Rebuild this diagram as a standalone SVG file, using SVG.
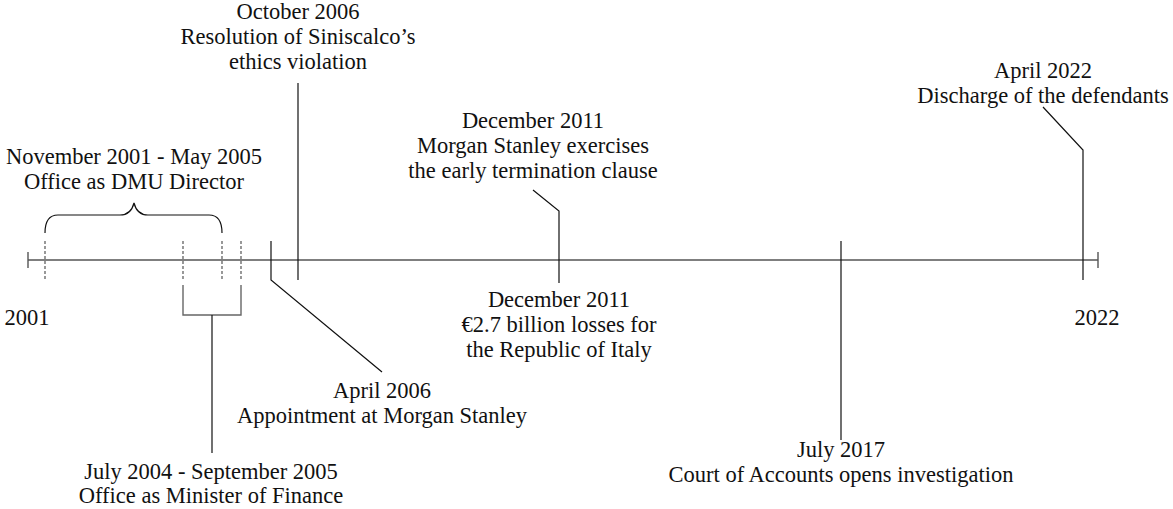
<svg xmlns="http://www.w3.org/2000/svg" width="1173" height="509" viewBox="0 0 1173 509">
  <style>
    text { font-family: "Liberation Serif", "DejaVu Serif", serif; font-size: 22.5px; fill: #111; text-anchor: middle; }
    .axis { stroke: #555; stroke-width: 1.4; fill: none; }
    .dash { stroke: #555; stroke-width: 1.2; stroke-dasharray: 3 2; fill: none; }
    .lead { stroke: #111; stroke-width: 1.2; fill: none; }
    .grey { stroke: #666; stroke-width: 1.4; fill: none; }
  </style>
  <rect width="1173" height="509" fill="#fff"/>

  <!-- timeline axis with end caps -->
  <g id="axis">
    <line class="axis" x1="28" y1="260" x2="1098" y2="260"/>
    <line class="axis" x1="28" y1="252" x2="28" y2="268"/>
    <line class="axis" x1="1098" y1="252" x2="1098" y2="268"/>
    <text x="27" y="325">2001</text>
    <text x="1097" y="325">2022</text>
  </g>

  <!-- connectors: leader lines, period markers, brace and bracket -->
  <g id="connectors">
    <line class="dash" x1="45" y1="241" x2="45" y2="280"/>
    <line class="dash" x1="183" y1="241" x2="183" y2="280"/>
    <line class="dash" x1="222" y1="241" x2="222" y2="280"/>
    <line class="dash" x1="241" y1="241" x2="241" y2="280"/>
    <path class="lead" d="M45,233 C45,222 49,215 58,215 H120 C128,215 132,211 134,203 C136,211 140,215 148,215 H209 C218,215 222,222 222,233"/>
    <path class="grey" d="M183,285 V315 H241 V285"/>
    <line class="lead" x1="212" y1="315" x2="212" y2="453"/>
    <path class="lead" d="M271,241 V280 L382,372"/>
    <line class="lead" x1="298" y1="83" x2="298" y2="280"/>
    <path class="lead" d="M533,190 L559,211 V283"/>
    <line class="lead" x1="841" y1="241" x2="841" y2="440"/>
    <path class="lead" d="M1043,107 L1083,150 V280"/>
  </g>

  <g id="dmu-director">
    <text x="134" y="164">November 2001 - May 2005</text>
    <text x="134" y="189">Office as DMU Director</text>
  </g>

  <g id="minister-of-finance">
    <text x="211" y="479">July 2004 - September 2005</text>
    <text x="211" y="503">Office as Minister of Finance</text>
  </g>

  <g id="morgan-stanley-appointment">
    <text x="382" y="398">April 2006</text>
    <text x="382" y="423">Appointment at Morgan Stanley</text>
  </g>

  <g id="ethics-resolution">
    <text x="298" y="19">October 2006</text>
    <text x="298" y="44">Resolution of Siniscalco’s</text>
    <text x="298" y="69">ethics violation</text>
  </g>

  <g id="early-termination">
    <text x="533" y="128">December 2011</text>
    <text x="533" y="153">Morgan Stanley exercises</text>
    <text x="533" y="178">the early termination clause</text>
  </g>

  <g id="losses">
    <text x="559" y="307">December 2011</text>
    <text x="559" y="332">€2.7 billion losses for</text>
    <text x="559" y="357">the Republic of Italy</text>
  </g>

  <g id="court-of-accounts">
    <text x="841" y="457">July 2017</text>
    <text x="841" y="482">Court of Accounts opens investigation</text>
  </g>

  <g id="discharge">
    <text x="1043" y="78">April 2022</text>
    <text x="1043" y="103">Discharge of the defendants</text>
  </g>
</svg>
